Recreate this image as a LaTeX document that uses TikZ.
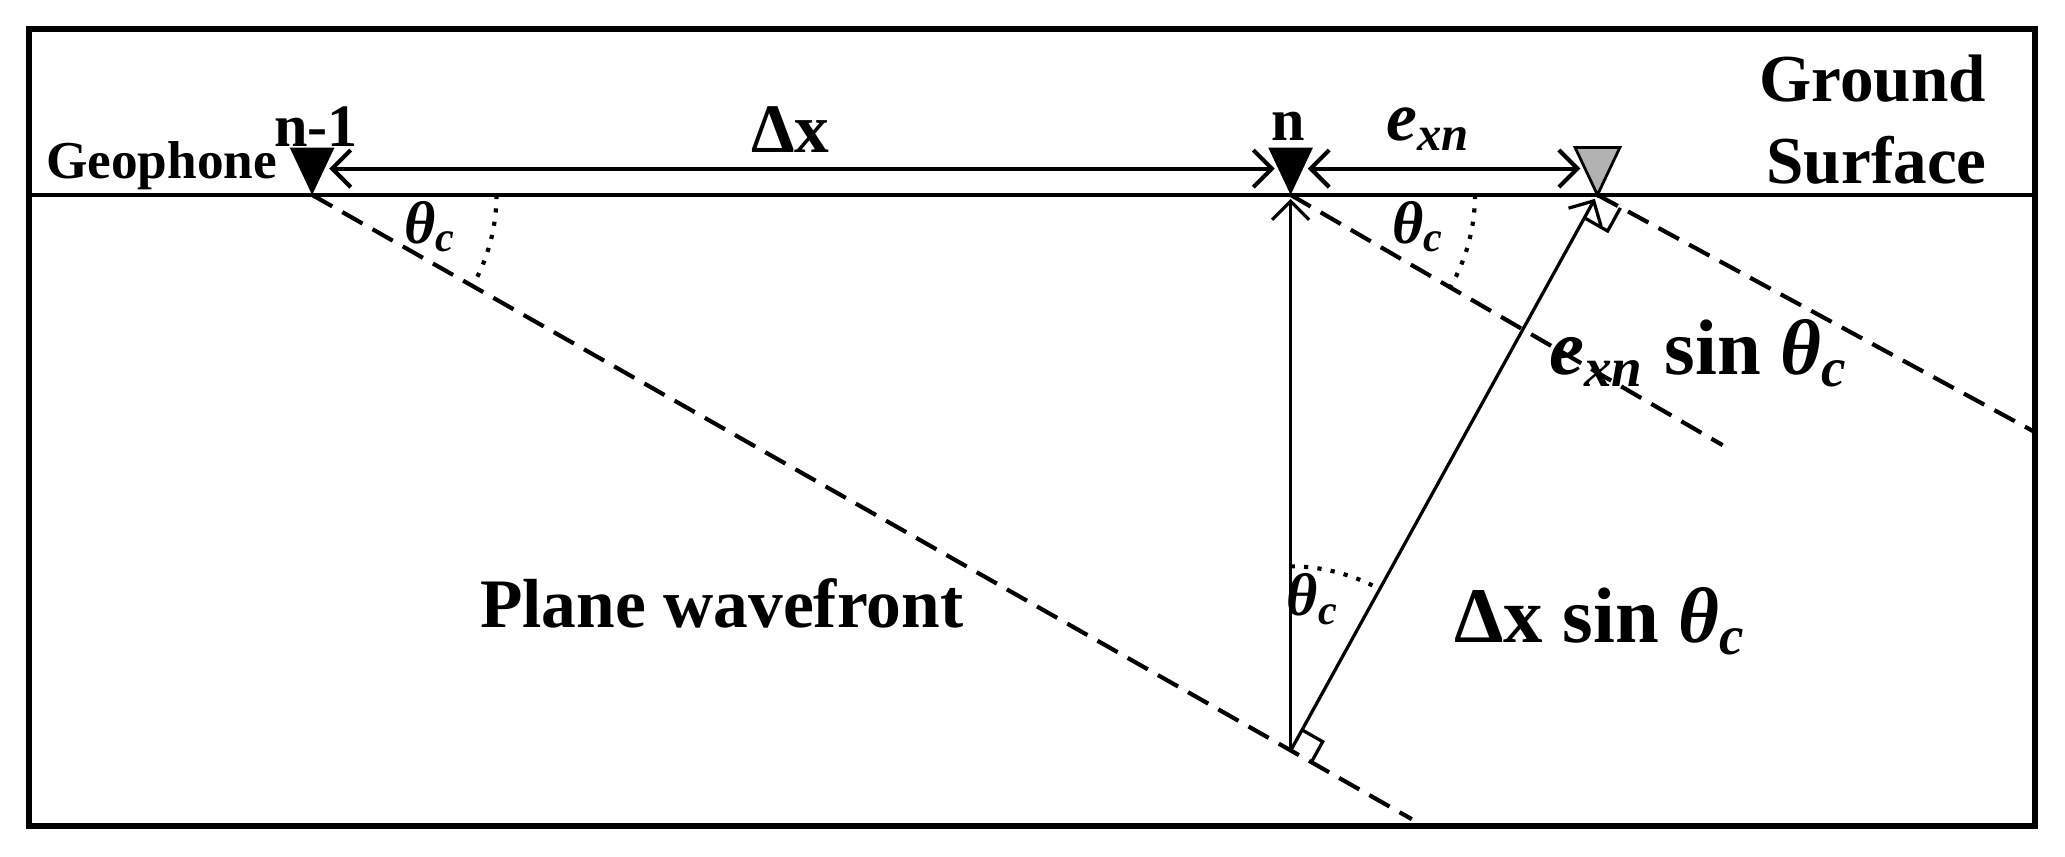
\documentclass[tikz,border=0pt]{standalone}
\usepackage{fontspec}
\setmainfont{Liberation Serif}
\usetikzlibrary{arrows.meta,calc}
\begin{document}
\begin{tikzpicture}[x=0.01cm,y=0.01cm,
  lbl/.style={font=\bfseries\fontsize{13}{15}\selectfont, inner sep=0pt},
  dsh/.style={dashed, dash pattern=on 5pt off 2.5pt, line width=0.9pt},
  arr/.style={line width=0.9pt, {Straight Barb[length=4pt]}-{Straight Barb[length=4pt]}}]
\useasboundingbox (0,0) rectangle (1568,-650);
\draw[line width=1.3pt] (22,-22) rectangle (1545,-627);
\draw[line width=0.9pt] (22,-148) -- (1545,-148);
% geophones
\coordinate (A) at (237,-148);
\coordinate (N) at (980,-148);
\coordinate (G) at (1213,-148);
\coordinate (F) at (980,-570);
\fill (A) -- ++(-17,36) -- ++(34,0) -- cycle;
\fill (N) -- ++(-17,36) -- ++(34,0) -- cycle;
\filldraw[fill=gray!60, draw=black, line width=0.6pt] (G) -- ++(-17,36) -- ++(34,0) -- cycle;
\coordinate (a1) at (250,-128); \coordinate (a2) at (968,-128);
\coordinate (a3) at (993,-128); \coordinate (a4) at (1200,-128);
\draw[arr] (a1) -- (a2);
\draw[arr] (a3) -- (a4);
% wavefronts
\coordinate (W1) at (1072,-622);
\coordinate (W2) at (1308,-338);
\coordinate (W3) at (1545,-328);
\draw[dsh] (A) -- (W1);
\draw[dsh] (N) -- (W2);
\draw[dsh] (G) -- (W3);
% rays
\draw[line width=0.7pt, -{Straight Barb[length=4pt]}] (F) -- (980,-151);
\draw[line width=0.7pt, -{Straight Barb[length=4pt]}] (F) -- (1211,-151);
% right angles
\draw[line width=0.7pt] ($(F)!0.18cm!(G)$) -- ++(-29.6:0.18cm) -- ($(F)+(-29.6:0.18cm)$);
\draw[line width=0.7pt] ($(G)!0.2cm!(F)$) -- ++(-29.6:0.2cm) -- ($(G)+(-29.6:0.2cm)$);
% angle arcs
\draw[dotted, line width=0.9pt] (377,-148) arc[start angle=0, end angle=-29.6, radius=1.4cm];
\draw[dotted, line width=0.9pt] (1120,-148) arc[start angle=0, end angle=-29.6, radius=1.4cm];
\draw[dotted, line width=0.9pt] (980,-430) arc[start angle=90, end angle=61, radius=1.4cm];
% labels
\node[lbl, font=\bfseries\fontsize{11.5}{13}\selectfont, anchor=east] (geoph) at (211,-126) {Geophone};
\node[lbl] (lnm1) at (240,-96) {n-1};
\node[lbl] (ln) at (978,-96) {n};
\node[lbl, font=\bfseries\fontsize{15}{17}\selectfont] (ldx) at (600,-98) {Δx};
\node[lbl, font=\bfseries\fontsize{15}{17}\selectfont] (lexn) at (1085,-98) {\itshape e\textsubscript{xn}};
\node[lbl, font=\bfseries\fontsize{14.5}{16}\selectfont] (gs) at (1422,-60) {Ground};
\node[lbl, font=\bfseries\fontsize{14.5}{16}\selectfont] (sf) at (1425,-122) {Surface};
\node[lbl] (t1) at (327,-172) {\itshape θ\textsubscript{c}};
\node[lbl] (t2) at (1077,-172) {\itshape θ\textsubscript{c}};
\node[lbl] (t3) at (997,-455) {\itshape θ\textsubscript{c}};
\node[lbl, font=\bfseries\fontsize{17}{19}\selectfont] (es) at (1290,-268) {{\itshape e\textsubscript{xn}} sin {\itshape θ\textsubscript{c}}};
\node[lbl, font=\bfseries\fontsize{17}{19}\selectfont] (ds) at (1215,-472) {Δx sin {\itshape θ\textsubscript{c}}};
\node[lbl, font=\bfseries\fontsize{15}{17}\selectfont] (pw) at (548,-458) {Plane wavefront};
\end{tikzpicture}
\end{document}
